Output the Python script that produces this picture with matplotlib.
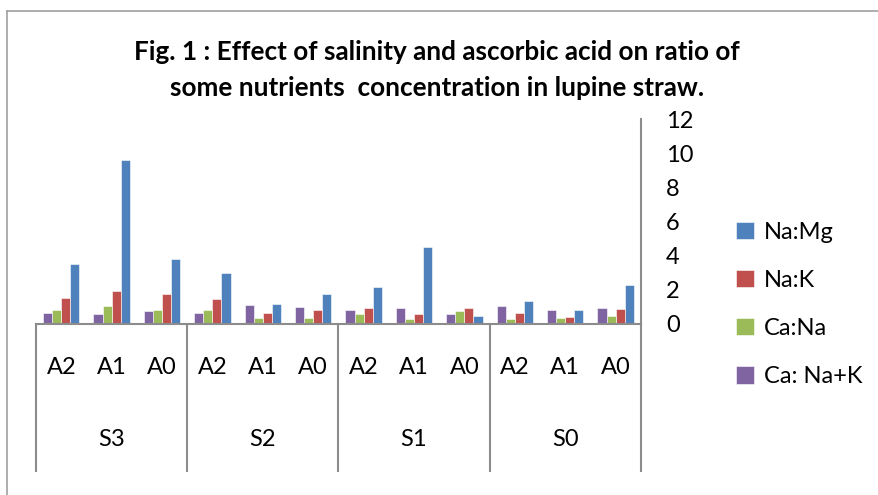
import matplotlib.pyplot as plt
from matplotlib.lines import Line2D
import numpy as np

plt.rcParams['font.family'] = ['Lato', 'DejaVu Sans']

# categories as drawn, left to right
salinity = ['S3', 'S2', 'S1', 'S0']
acid = ['A2', 'A1', 'A0']

series_names = ['Na:Mg', 'Na:K', 'Ca:Na', 'Ca: Na+K']
colors = ['#4F81BD', '#C0504D', '#9BBB59', '#8064A2']

na_mg = [3.49, 9.6, 3.78, 2.98, 1.19, 1.77, 2.16, 4.48, 0.47, 1.32, 0.82, 2.26]
na_k = [1.54, 1.93, 1.75, 1.48, 0.66, 0.80, 0.91, 0.56, 0.91, 0.62, 0.41, 0.89]
ca_na = [0.84, 1.05, 0.82, 0.84, 0.33, 0.35, 0.56, 0.31, 0.78, 0.31, 0.33, 0.49]
ca_na_k = [0.64, 0.57, 0.76, 0.66, 1.09, 0.99, 0.84, 0.95, 0.56, 1.07, 0.82, 0.94]

series = [na_mg, na_k, ca_na, ca_na_k]

fig = plt.figure(figsize=(8.79, 4.95), dpi=100)
ax = fig.add_axes([0.041, 0.3455, 0.688, 0.414])

n = len(salinity) * len(acid)
x = np.arange(n)
w = 0.18
# bars go purple, green, red, blue from left to right
for i, (vals, name, c) in enumerate(zip(series, series_names, colors)):
    off = (1.5 - i) * w
    ax.bar(x + off, vals, w, color=c, label=name, edgecolor='white', linewidth=0.4)

ax.set_xlim(-0.5, n - 0.5)
ax.set_ylim(0, 12)
ax.set_yticks(range(0, 13, 2))
ax.yaxis.tick_right()
ax.tick_params(axis='y', length=0, pad=18, labelsize=17)
for lab in ax.get_yticklabels():
    lab.set_horizontalalignment('left')
ax.set_xticks([])

gray = '#8C8C8C'
for s in ['top', 'left']:
    ax.spines[s].set_visible(False)
ax.spines['bottom'].set_color(gray)
ax.spines['bottom'].set_linewidth(1.5)
ax.spines['right'].set_color(gray)
ax.spines['right'].set_linewidth(1.5)

# two-level category axis
trans = ax.get_xaxis_transform()
for k in range(len(salinity) + 1):
    xs = -0.5 + 3 * k
    ax.plot([xs, xs], [0, -0.717], color=gray, lw=1.5, transform=trans, clip_on=False)
for j in range(n):
    ax.text(x[j], -0.21, acid[j % 3], transform=trans, ha='center', va='center', fontsize=17)
for k, s in enumerate(salinity):
    ax.text(3 * k + 1, -0.566, s, transform=trans, ha='center', va='center', fontsize=17)

fig.text(0.497, 0.858, 'Fig. 1 : Effect of salinity and ascorbic acid on ratio of\n'
         'some nutrients  concentration in lupine straw.',
         fontsize=18.8, fontweight='bold', ha='center', va='center', linespacing=1.6)

ax.legend(loc='center left', bbox_to_anchor=(1.123, 0.095), frameon=False,
          fontsize=17, handlelength=0.75, handleheight=0.75, handletextpad=0.4,
          labelspacing=1.15)

# outer frame
fig.add_artist(Line2D([7 / 879, 7 / 879], [0, 1 - 11 / 495], color='#A0A0A0', lw=1.2))
fig.add_artist(Line2D([7 / 879, 1], [1 - 11 / 495, 1 - 11 / 495], color='#A0A0A0', lw=1.2))

fig.savefig('out.png', dpi=100)
